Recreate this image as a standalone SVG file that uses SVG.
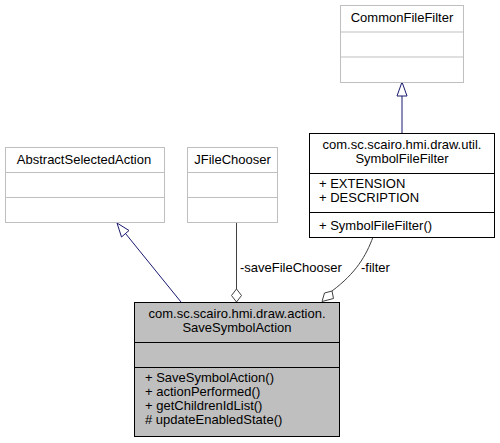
<svg xmlns="http://www.w3.org/2000/svg" width="500" height="443" viewBox="0 0 500 443">
<style>
text{font-family:"Liberation Sans",Arial,Helvetica,sans-serif;font-size:13px;fill:#000}
.c{text-anchor:middle}
.g{fill:#fff;stroke:#bfbfbf;stroke-width:1}
.b{fill:#fff;stroke:#000;stroke-width:1}
.m{fill:#bfbfbf;stroke:#000;stroke-width:1}
.inh{fill:none;stroke:#191970;stroke-width:1}
.inhh{fill:#fff;stroke:#191970;stroke-width:1}
.agg{fill:none;stroke:#404040;stroke-width:1}
.aggh{fill:#fff;stroke:#404040;stroke-width:1}
</style>
<rect width="500" height="443" fill="#fff"/>
<g id="connectors">
<line class="inh" x1="402" y1="96" x2="402" y2="133"/>
<polygon class="inhh" points="402,82 397,96 407,96"/>
<line class="inh" x1="181" y1="302" x2="125.5" y2="233.5"/>
<polygon class="inhh" points="117,223 129,230.5 121.5,237"/>
<line class="agg" x1="236.5" y1="223" x2="236.5" y2="289"/>
<polygon class="aggh" points="236.5,289 231.5,295.5 236.5,302 241.5,295.5"/>
<text x="240" y="272">-saveFileChooser</text>
<path class="agg" d="M373,237 C366,256 356,273 332,291"/>
<polygon class="aggh" points="322,301.5 324.5,293 332,291 333.5,298.5"/>
<text x="361" y="272">-filter</text>
</g>
<g id="CommonFileFilter">
<rect class="g" x="340.5" y="5.5" width="123" height="77"/>
<line class="g" x1="340.5" y1="32" x2="463.5" y2="32"/>
<line class="g" x1="340.5" y1="57" x2="463.5" y2="57"/>
<text class="c" x="402" y="22">CommonFileFilter</text>
</g>
<g id="AbstractSelectedAction">
<rect class="g" x="5.5" y="147.5" width="159" height="75"/>
<line class="g" x1="5.5" y1="172.5" x2="164.5" y2="172.5"/>
<line class="g" x1="5.5" y1="197.5" x2="164.5" y2="197.5"/>
<text class="c" x="84" y="164">AbstractSelectedAction</text>
</g>
<g id="JFileChooser">
<rect class="g" x="187.5" y="147.5" width="90" height="75"/>
<line class="g" x1="187.5" y1="172.5" x2="277.5" y2="172.5"/>
<line class="g" x1="187.5" y1="197.5" x2="277.5" y2="197.5"/>
<text class="c" x="232.5" y="164">JFileChooser</text>
</g>
<g id="SymbolFileFilter">
<rect class="b" x="309.5" y="133.5" width="185" height="104"/>
<line class="b" x1="309.5" y1="173.5" x2="494.5" y2="173.5"/>
<line class="b" x1="309.5" y1="212.5" x2="494.5" y2="212.5"/>
<text class="c" x="402" y="149">com.sc.scairo.hmi.draw.util.</text>
<text class="c" x="402" y="163">SymbolFileFilter</text>
<text x="319" y="188">+ EXTENSION</text>
<text x="319" y="202">+ DESCRIPTION</text>
<text x="319" y="230">+ SymbolFileFilter()</text>
</g>
<g id="SaveSymbolAction">
<rect class="m" x="134.5" y="302.5" width="205" height="134"/>
<line class="m" x1="134.5" y1="342.5" x2="339.5" y2="342.5"/>
<line class="m" x1="134.5" y1="367.5" x2="339.5" y2="367.5"/>
<text class="c" x="237" y="318">com.sc.scairo.hmi.draw.action.</text>
<text class="c" x="237" y="332">SaveSymbolAction</text>
<text x="145" y="382">+ SaveSymbolAction()</text>
<text x="145" y="396">+ actionPerformed()</text>
<text x="145" y="410">+ getChildrenIdList()</text>
<text x="145" y="424"># updateEnabledState()</text>
</g>
</svg>
